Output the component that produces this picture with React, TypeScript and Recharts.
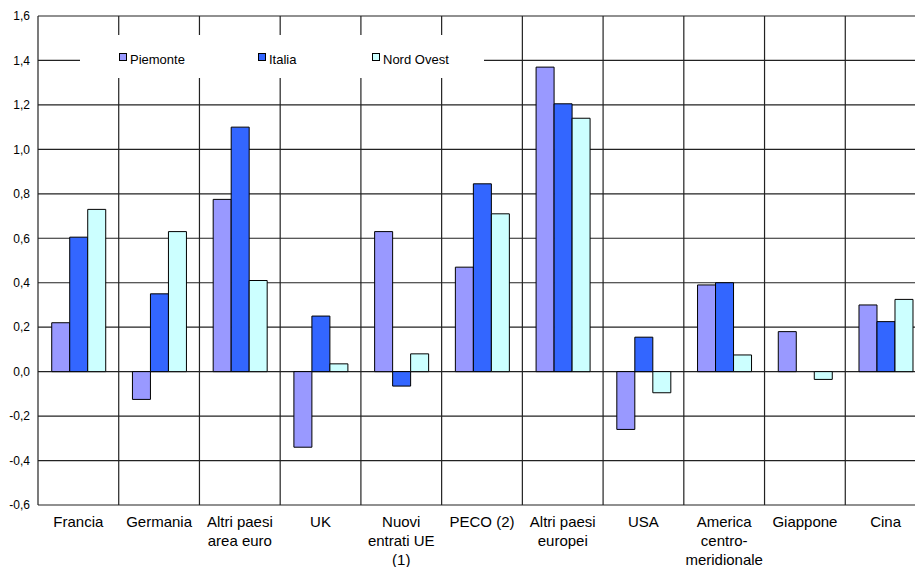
import React from "react";
import { BarChart, Bar, XAxis, YAxis, CartesianGrid, Legend } from "recharts";

const categories: string[][] = [
  ["Francia"],
  ["Germania"],
  ["Altri paesi", "area euro"],
  ["UK"],
  ["Nuovi", "entrati UE", "(1)"],
  ["PECO (2)"],
  ["Altri paesi", "europei"],
  ["USA"],
  ["America", "centro-", "meridionale"],
  ["Giappone"],
  ["Cina"],
];

const piemonte = [0.22, -0.125, 0.775, -0.34, 0.63, 0.47, 1.37, -0.26, 0.39, 0.18, 0.3];
const italia = [0.605, 0.35, 1.1, 0.25, -0.065, 0.845, 1.205, 0.155, 0.4, 0, 0.225];
const nordOvest = [0.73, 0.63, 0.41, 0.035, 0.08, 0.71, 1.14, -0.095, 0.075, -0.035, 0.325];

const yTicks = [-0.6, -0.4, -0.2, 0, 0.2, 0.4, 0.6, 0.8, 1.0, 1.2, 1.4, 1.6];

const seriesNames = ["Piemonte", "Italia", "Nord Ovest"];
const seriesColors = ["#9999FF", "#3366FF", "#CCFFFF"];

const data = categories.map((c, i) => ({
  name: c.join(" "),
  lines: c,
  Piemonte: piemonte[i],
  Italia: italia[i],
  "Nord Ovest": nordOvest[i],
}));

const FONT = "'Liberation Sans', Arial, sans-serif";

const XTick = (props: any) => {
  const { x, y, index } = props;
  const lines = categories[index] || [];
  return (
    <text x={x} y={y} textAnchor="middle" fontFamily={FONT} fontSize={15} fill="#000">
      {lines.map((l, i) => (
        <tspan key={i} x={x} dy={i === 0 ? 22 : 19}>
          {l}
        </tspan>
      ))}
    </text>
  );
};

const legendLeft = [39, 178, 292];

const LegendContent = (props: any) => {
  const payload = [...(props.payload || [])].sort(
    (a: any, b: any) => seriesNames.indexOf(a.value) - seriesNames.indexOf(b.value)
  );
  return (
    <div style={{ position: "relative", width: 404, height: 43, background: "#fff" }}>
      {payload.map((p: any, i: number) => (
        <div
          key={p.value}
          style={{
            position: "absolute",
            left: legendLeft[i],
            top: 17,
            display: "flex",
            alignItems: "flex-start",
            fontFamily: FONT,
            fontSize: 13,
            lineHeight: "15px",
            color: "#000",
            whiteSpace: "nowrap",
          }}
        >
          <div
            style={{
              width: 8,
              height: 8,
              boxSizing: "border-box",
              border: "1px solid #000",
              background: p.color,
              marginTop: 1,
              marginRight: 3,
            }}
          />
          <span>{p.value}</span>
        </div>
      ))}
    </div>
  );
};

export default function App() {
  const n = categories.length;
  return (
    <div
      style={{
        position: "fixed",
        left: 0,
        top: 0,
        width: 915,
        height: 567,
        overflow: "hidden",
        background: "#fff",
      }}
    >
      <BarChart
        width={926}
        height={600}
        data={data}
        margin={{ top: 16, right: 0, bottom: 35, left: 0 }}
        barCategoryGap="17%"
        barGap={0}
      >
        <CartesianGrid
          stroke="#222"
          strokeWidth={1.2}
          horizontal={true}
          vertical={true}
          verticalCoordinatesGenerator={(args: any) => {
            const off = args && args.offset ? args.offset : { left: 38, width: 888 };
            return Array.from({ length: n + 1 }, (_, i) => off.left + (i * off.width) / n);
          }}
        />
        <XAxis
          dataKey="name"
          axisLine={false}
          tickLine={false}
          tickSize={0}
          tickMargin={0}
          height={60}
          interval={0}
          tick={<XTick />}
        />
        <YAxis
          width={38}
          domain={[-0.6, 1.6]}
          ticks={yTicks}
          axisLine={false}
          tickLine={false}
          tickSize={0}
          tickMargin={8}
          interval={0}
          allowDataOverflow
          tickFormatter={(v: number) => v.toFixed(1).replace(".", ",")}
          tick={{ fontFamily: FONT, fontSize: 12, fill: "#000" }}
        />
        <Legend
          layout="horizontal"
          verticalAlign="middle"
          align="center"
          itemSorter={null as any}
          wrapperStyle={{ position: "absolute", left: 80, top: 35, width: 404, height: 43 }}
          content={<LegendContent />}
        />
        {seriesNames.map((s, i) => (
          <Bar
            key={s}
            dataKey={s}
            name={s}
            fill={seriesColors[i]}
            stroke="#000"
            strokeWidth={1}
            isAnimationActive={false}
          />
        ))}
      </BarChart>
    </div>
  );
}
